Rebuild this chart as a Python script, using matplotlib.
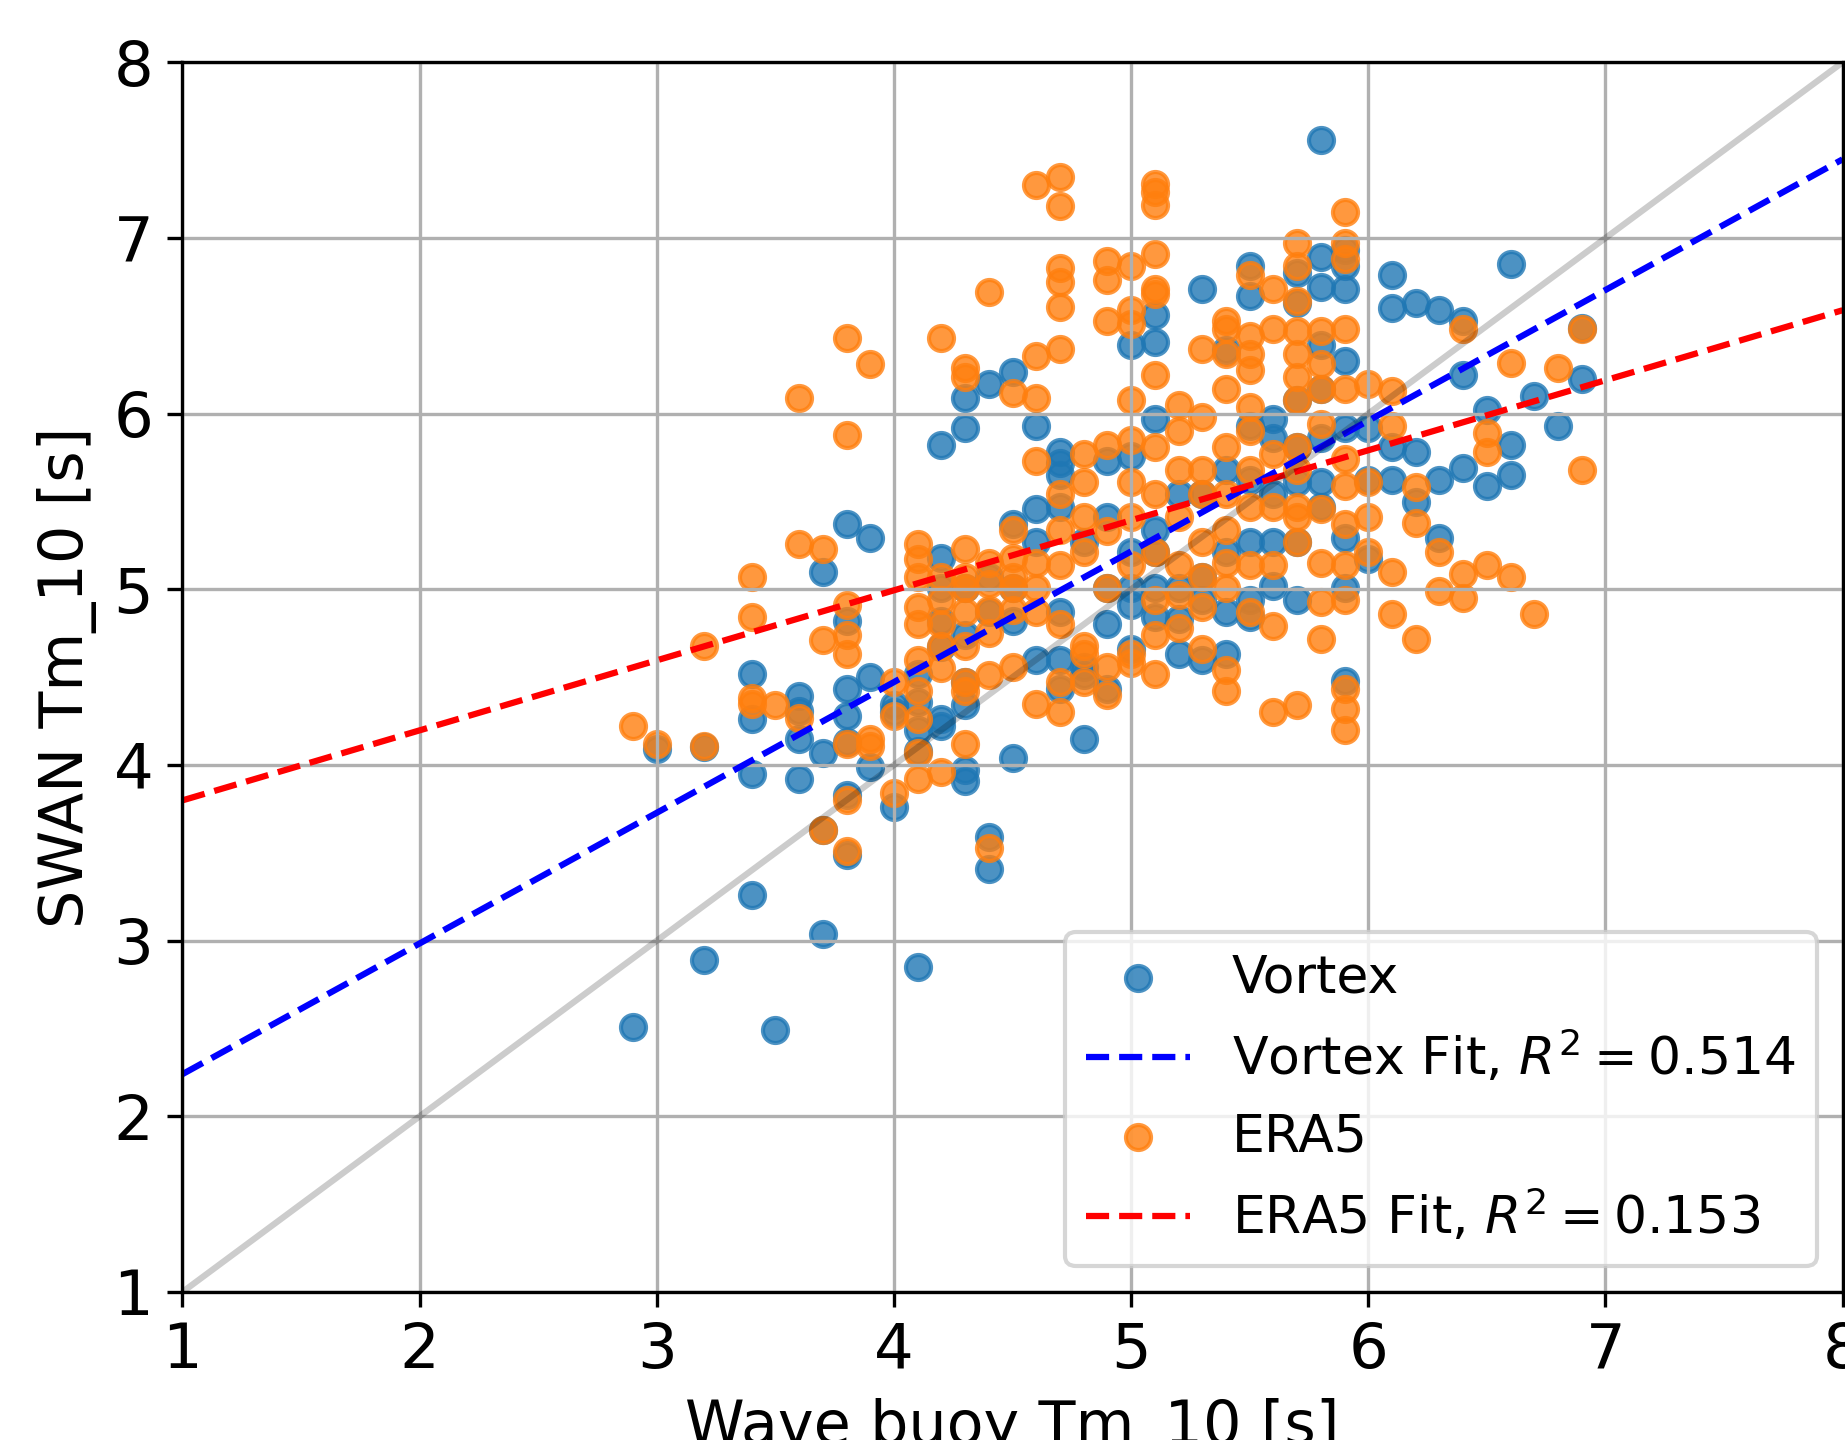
import numpy as np
import matplotlib
matplotlib.use("Agg")
import matplotlib.pyplot as plt

plt.rcParams['font.size'] = 15

# Vortex (buoy Tm_10 vs SWAN Tm_10), grouped by buoy value
vortex_x = ([2.9] + [3.0] + [3.2]*2 + [3.4]*4 + [3.5] + [3.6]*4 + [3.7]*4 + [3.8]*7
            + [3.9]*3 + [4.0]*3 + [4.1]*5 + [4.2]*7 + [4.3]*8 + [4.4]*5 + [4.5]*5
            + [4.6]*4 + [4.7]*7 + [4.8]*4 + [4.9]*5 + [5.0]*6 + [5.1]*7 + [5.2]*4
            + [5.3]*5 + [5.4]*5 + [5.5]*7 + [5.6]*5 + [5.7]*7 + [5.8]*8 + [5.9]*8
            + [6.0]*3 + [6.1]*4 + [6.2]*3 + [6.3]*3 + [6.4]*3 + [6.5]*2 + [6.6]*3
            + [6.7] + [6.8] + [6.9]*2)
vortex_y = [2.51,
            4.09,
            2.89, 4.10,
            4.52, 4.26, 3.95, 3.26,
            2.49,
            4.39, 4.31, 4.15, 3.92,
            5.10, 4.07, 3.63, 3.04,
            5.37, 4.82, 4.43, 4.28, 4.13, 3.83, 3.49,
            5.29, 4.50, 3.99,
            4.30, 3.76, 4.34,
            2.85, 4.52, 4.36, 4.20, 4.08,
            5.82, 5.18, 5.01, 4.82, 4.67, 4.26, 4.22,
            6.09, 5.92, 5.01, 4.74, 4.47, 4.34, 3.97, 3.91,
            6.17, 3.59, 3.41, 4.87, 5.07,
            6.24, 5.37, 5.01, 4.82, 4.04,
            5.93, 5.46, 5.27, 4.60,
            5.78, 5.72, 5.65, 5.47, 4.87, 4.60, 4.43,
            4.15, 5.27, 4.56, 4.51,
            5.73, 5.41, 5.01, 4.80, 4.43,
            6.39, 5.76, 5.21, 5.01, 4.91, 4.66,
            6.56, 6.41, 5.97, 5.34, 5.21, 5.01, 4.84,
            5.54, 5.01, 4.63, 4.83,
            6.71, 5.54, 5.07, 4.94, 4.60,
            6.36, 5.68, 5.21, 4.87, 4.63,
            6.84, 6.67, 5.93, 5.62, 5.27, 4.94, 4.84,
            5.97, 5.86, 5.54, 5.27, 5.02,
            6.80, 6.63, 6.08, 5.81, 5.61, 5.27, 4.94,
            7.56, 6.89, 6.72, 6.39, 6.14, 5.86, 5.61, 5.47,
            6.93, 6.84, 6.71, 6.30, 5.92, 5.29, 5.01, 4.48,
            5.92, 5.62, 5.17,
            6.79, 6.60, 5.81, 5.62,
            6.63, 5.78, 5.50,
            6.59, 5.62, 5.29,
            6.53, 6.22, 5.69,
            6.02, 5.59,
            6.85, 5.82, 5.65,
            6.10,
            5.93,
            6.49, 6.20]

# ERA5
era5_x = ([2.9] + [3.0] + [3.2]*2 + [3.4]*4 + [3.5] + [3.6]*3 + [3.7]*3 + [3.8]*8
          + [3.9]*3 + [4.0]*3 + [4.1]*10 + [4.2]*7 + [4.3]*10 + [4.4]*7 + [4.5]*7
          + [4.6]*8 + [4.7]*12 + [4.8]*7 + [4.9]*8 + [5.0]*10 + [5.1]*13 + [5.2]*7
          + [5.3]*8 + [5.4]*11 + [5.5]*10 + [5.6]*7 + [5.7]*13 + [5.8]*8 + [5.9]*13
          + [6.0]*4 + [6.1]*4 + [6.2]*3 + [6.3]*2 + [6.4]*3 + [6.5]*3 + [6.6]*2
          + [6.7] + [6.8] + [6.9]*2)
era5_y = [4.22,
          4.12,
          4.68, 4.11,
          5.07, 4.84, 4.38, 4.35,
          4.34,
          6.09, 5.26, 4.27,
          5.23, 4.71, 3.63,
          6.43, 5.88, 4.91, 4.74, 4.63, 4.12, 3.80, 3.51,
          6.28, 4.15, 4.11,
          4.47, 4.28, 3.84,
          5.26, 5.17, 5.07, 4.90, 4.80, 4.60, 4.42, 4.26, 4.07, 3.92,
          6.43, 5.07, 4.94, 4.80, 4.68, 4.55, 3.96,
          6.26, 6.21, 5.23, 5.07, 5.01, 4.87, 4.68, 4.47, 4.42, 4.12,
          6.69, 5.15, 5.03, 4.88, 4.75, 4.51, 3.53,
          6.12, 5.34, 5.18, 5.07, 5.01, 4.88, 4.56,
          7.30, 6.33, 6.09, 5.73, 5.15, 5.01, 4.87, 4.35,
          7.35, 7.18, 6.83, 6.75, 6.61, 6.37, 5.54, 5.34, 5.14, 4.80, 4.47, 4.30,
          5.77, 5.61, 5.41, 5.21, 4.68, 4.63, 4.47,
          6.87, 6.76, 6.53, 5.82, 5.33, 5.01, 4.56, 4.40,
          6.84, 6.59, 6.51, 6.08, 5.85, 5.61, 5.41, 5.14, 4.63, 4.58,
          7.31, 7.26, 7.19, 6.91, 6.71, 6.68, 6.22, 5.81, 5.54, 5.21, 4.94, 4.74, 4.52,
          6.05, 5.90, 5.68, 5.41, 5.14, 4.97, 4.78,
          6.37, 5.98, 5.68, 5.54, 5.27, 5.07, 4.90, 4.66,
          6.53, 6.48, 6.34, 6.14, 5.81, 5.54, 5.34, 5.15, 5.01, 4.54, 4.42,
          6.79, 6.44, 6.34, 6.25, 6.04, 5.90, 5.68, 5.47, 5.14, 4.87,
          6.71, 6.48, 5.77, 5.47, 5.14, 4.79, 4.30,
          6.97, 6.84, 6.64, 6.47, 6.34, 6.21, 6.08, 5.81, 5.68, 5.47, 5.41, 5.27, 4.34,
          6.47, 6.28, 6.14, 5.94, 5.46, 5.15, 4.93, 4.72,
          7.15, 6.97, 6.88, 6.48, 6.14, 5.74, 5.59, 5.37, 5.14, 4.94, 4.43, 4.32, 4.20,
          6.17, 5.61, 5.41, 5.21,
          6.13, 5.93, 5.10, 4.86,
          5.58, 5.38, 4.72,
          5.21, 4.99,
          6.48, 5.09, 4.95,
          5.89, 5.78, 5.14,
          6.29, 5.07,
          4.86,
          6.26,
          6.48, 5.68]

# linear fits (slope, intercept) and R^2 as shown
vortex_fit = (0.744, 1.496)
era5_fit = (0.3986, 3.40)
vortex_r2 = 0.514
era5_r2 = 0.153

fig = plt.figure(figsize=(6.15, 4.8), dpi=300)
ax = fig.add_axes([0.0989, 0.1028, 0.8998, 0.8539])

xx = np.array([1, 8])
ax.scatter(vortex_x, vortex_y, alpha=0.8, label='Vortex')
ax.plot(xx, vortex_fit[0]*xx + vortex_fit[1], 'b--',
        label=r'Vortex Fit, $R^2 = %.3f$' % vortex_r2)
ax.scatter(era5_x, era5_y, alpha=0.8, label='ERA5')
ax.plot(xx, era5_fit[0]*xx + era5_fit[1], 'r--',
        label=r'ERA5 Fit, $R^2 = %.3f$' % era5_r2)
ax.plot(xx, xx, color='k', alpha=0.2, lw=1.5)

ax.set_xlim(1, 8)
ax.set_ylim(1, 8)
ax.grid(True)
ax.set_xlabel('Wave buoy Tm_10 [s]', fontsize=14.5)
ax.set_ylabel('SWAN Tm_10 [s]', fontsize=14.5)
ax.legend(loc='lower right', fontsize=12.5)

fig.savefig('out.png', dpi=300)
